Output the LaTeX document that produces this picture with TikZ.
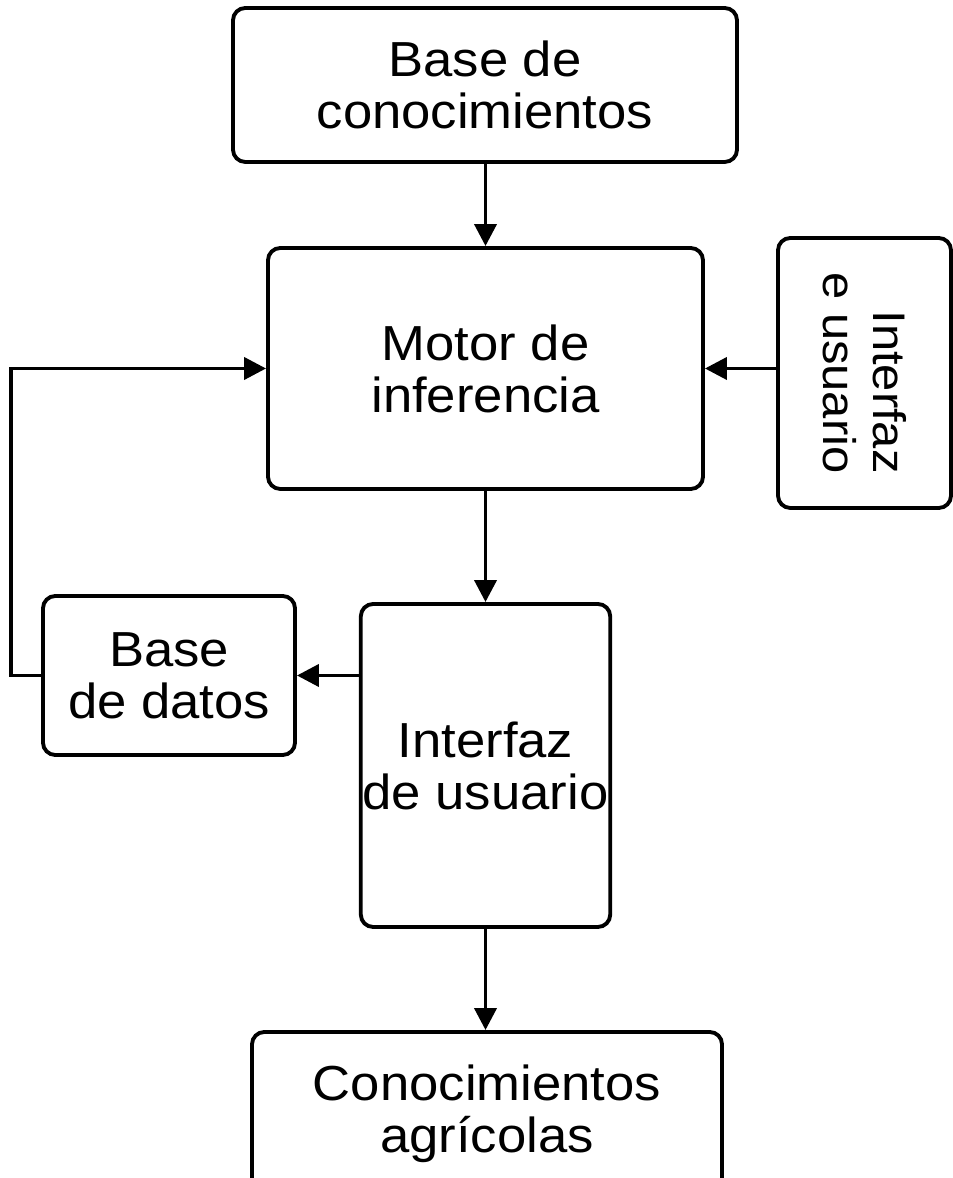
\documentclass[tikz,border=0pt]{standalone}
\usepackage{fontspec}
\setmainfont[FakeStretch=1.07]{Liberation Sans}
\usetikzlibrary{arrows.meta}

\begin{document}
\begin{tikzpicture}[
	box/.style={draw, line width=2.2pt, rounded corners=7pt, align=center, inner sep=1pt, font=\fontsize{28}{29.6}\selectfont},
	link/.style={line width=2.2pt, -{Triangle[length=12.5pt,width=12.5pt]}}
]
	\useasboundingbox (0,0) rectangle (19.06,23.56);

	\node[box, minimum width=10.08cm, minimum height=3.08cm] (bc) at (9.70,21.86) {Base de\\conocimientos};
	\node[box, minimum width=8.70cm, minimum height=4.82cm] (mi) at (9.71,16.19) {Motor de\\inferencia};
	\node[box, rotate=-90, minimum width=5.40cm, minimum height=3.46cm, align=right, font=\fontsize{26}{28.5}\selectfont] (ie) at (17.29,16.10) {Interfaz\\e usuario};
	\node[box, minimum width=5.04cm, minimum height=3.18cm] (bd) at (3.38,10.05) {Base\\de datos};
	\node[box, minimum width=4.94cm, minimum height=6.46cm] (iu) at (9.71,8.25) {Interfaz\\de usuario};
	\node[box, minimum width=9.40cm, minimum height=3.28cm] (ca) at (9.74,1.28) {Conocimientos\\agrícolas};

	\draw[link] (bc.south -| mi.north) -- (mi.north);
	\draw[link] (mi.east -| ie.south) -- (mi.east);
	\draw[link] (mi.south) -- (iu.north);
	\draw[link] (bd.east -| iu.west) -- (bd.east);
	\draw[link] (bd.west) -- ++(-0.6,0) |- (mi.west);
	\draw[link] (iu.south) -- (ca.north -| iu.south);
\end{tikzpicture}
\end{document}
